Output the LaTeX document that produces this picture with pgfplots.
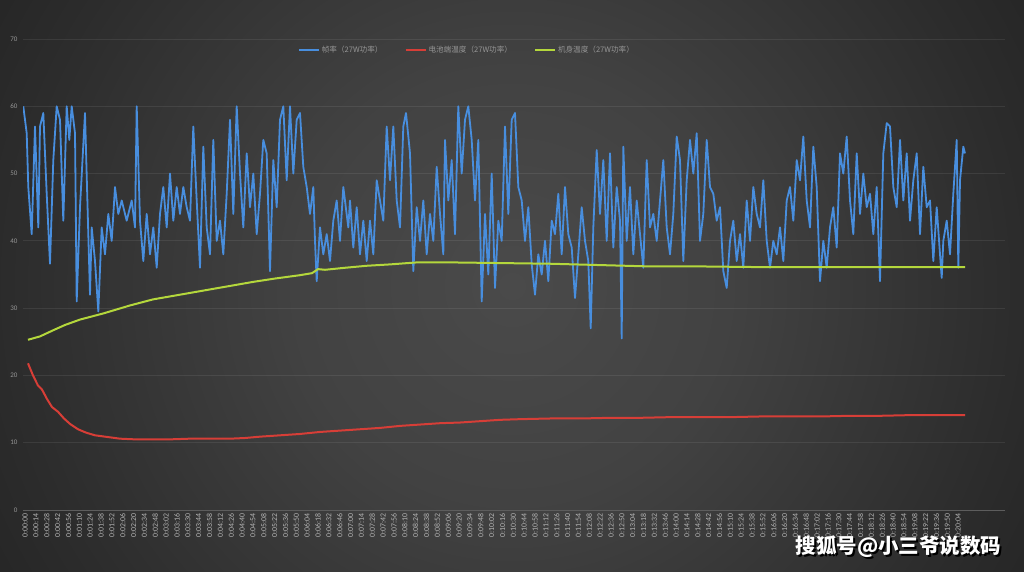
\documentclass[border=0pt]{standalone}
\usepackage{fontspec}
\setmainfont{Carlito}
\newfontfamily\cjk{Noto Sans CJK SC}
\usepackage{pgfplots}
\pgfplotsset{compat=1.18}
\definecolor{bgA}{RGB}{74,74,74}
\definecolor{bgB}{RGB}{66,66,66}
\definecolor{bgC}{RGB}{44,44,44}
\definecolor{bgD}{RGB}{27,27,27}
\definecolor{bgE}{RGB}{17,17,17}
\definecolor{bgF}{RGB}{8,8,8}
\definecolor{fpsblue}{RGB}{72,142,222}
\definecolor{tred}{RGB}{215,62,55}
\definecolor{tgreen}{RGB}{180,215,60}
\definecolor{lbl}{RGB}{150,150,150}
\pgfdeclareradialshading{vign}{\pgfpoint{0bp}{0bp}}{color(0bp)=(bgA); color(9bp)=(bgB); color(21bp)=(bgC); color(32bp)=(bgD); color(41bp)=(bgE); color(50bp)=(bgF)}
\begin{document}
\begin{tikzpicture}[x=1pt,y=1pt]
\begin{scope}
\clip (0,0) rectangle (1024,571);
\shade[shading=vign] (-88,-315) rectangle (1112,885);
\end{scope}
\useasboundingbox (0,0) rectangle (1024,571);
\draw[line width=0.9pt, color={rgb,255:red,80;green,80;blue,80}] (23,61) -- (1005,61);
\begin{axis}[
  at={(23pt,61pt)}, anchor=south west,
  scale only axis, width=982pt, height=471pt,
  xmin=23, xmax=1005, ymin=0, ymax=70,
  axis line style={draw=none},
  tick style={draw=none},
  ytick={0,10,...,70},
  ymajorgrids,
  major grid style={white, opacity=0.08, line width=0.8pt},
  xtick={23,33.85,...,957},
  xticklabel={\pgfmathtruncatemacro\tot{\ticknum*14}\pgfmathtruncatemacro\mm{\tot/60}\pgfmathtruncatemacro\ss{\tot-60*\mm}0:\ifnum\mm<10 0\fi\mm:\ifnum\ss<10 0\fi\ss},
  xticklabel style={rotate=90, anchor=east, font=\fontsize{7.8}{8}\selectfont, text={rgb,255:red,180;green,180;blue,180}, yshift=-2pt},
  yticklabel style={font=\fontsize{7}{8}\selectfont, text=lbl, xshift=-2pt},
  /pgf/number format/assume math mode=true,
  legend columns=3,
  legend style={at={(0.452,0.977)}, anchor=center, draw=none, fill=none,
    font=\cjk\fontsize{7.6}{9}\selectfont, text=lbl,
    /tikz/every even column/.append style={column sep=20pt},
    inner sep=0pt},
  legend image code/.code={\draw[#1, line width=2pt] (0pt,0pt) -- (20pt,0pt);},
  line join=round,
]
\addplot[fpsblue, line width=1.8pt] coordinates {
(23.3,60)(26.7,56)(28.3,48)(31.7,41)(35,57)(38.3,42)(40,57)(43.3,59)(46.7,47)(50,36.6)(53.3,52)(56.7,60)(60,58)(63.3,43)(66.7,60)(69.3,55)(71.7,60)(75,56)(76.7,31)(80,45)(85,59)(88.3,41)(90,32)(91.7,42)(95,37)(98.3,29.5)(101.7,42)(105,38)(108.3,44)(111.7,40)(115,48)(118.3,44)(121.7,46)(126.7,43)(131.7,46)(135,42)(136.7,60)(140,43)(143.3,37)(146.7,44)(150,38)(153.3,42)(156.7,36)(160,44)(163.3,48)(166.7,42)(170,50)(173.3,43)(176.7,48)(180,44)(183.3,48)(186.7,45)(190,43)(193.3,57)(196.7,46)(200,36)(203.3,54)(206.7,42)(210,38)(213.3,55)(216.7,40)(220,43)(223.3,38)(226.7,47)(230,58)(233.3,44)(236.7,60)(240,50)(243.3,42)(246.7,53)(250,45)(253.3,50)(256.7,41)(260,47)(263.3,55)(266.7,53)(270,35.5)(273.3,52)(276.7,45)(280,58)(283.3,60)(286.7,49)(290,60)(293.3,50)(296.7,58)(300,59)
(303.3,51)(306.7,48)(310,44)(313.3,48)(315,40)(316.7,34)(320,42)(323.3,38)(326.7,41)(330,37)(333.3,43)(336.7,46)(340,40)(343.3,48)(348.3,42)(350,46)(353.3,39)(356.7,45)(360,38)(363.3,43)(366.7,37)(370,43)(373.3,38)(376.7,49)(380,46)(383.3,43)(386.7,57)(390,49)(393.3,57)(396.7,46)(400,42)(403.3,57)(406,59)(410,53)(413.3,35.5)(416.7,45)(420,40)(423.3,46)(426.7,38)(430,44)(433.3,40)(436.7,51)(440,44)(443.3,38)(445,55)(448.3,46)(451.7,52)(455,41)(458.3,60)(461.7,50)(465,58)(468.3,60)(471.7,55)(475,46)(478.3,55)(481.7,31)(485,44)(488.3,35)(491.7,50)(495,33)(498.3,43)(501.7,40)(505,57)(508.3,44)(511.7,58)(515,59)(518.3,48)(521.7,46)(525,40)(528.3,45)(531.7,36.5)(535,32)(538.3,38)(541.7,35)(545,40)(548.3,34)(551.7,43)(555,41)(558.3,47)(561.7,38)(565,48)(568.3,41)(571.7,39)(575,31.5)(578.3,38)(581.7,45)(585,40)(588.3,37)(590.7,27)(593.3,42)(596.7,53.5)(600,44)(603.3,52)(606.7,40)(610,53)(613.3,39)(616.7,48)(620,43)(621.7,25.5)(623.3,54)(626.7,40)(630,48)(633.3,38)(636.7,46)(640,41)
(643.3,36)(646.7,52)(650,42)(653.3,44)(656.7,40)(660,46)(663.3,52)(666.7,42)(670,38)(673.3,44)(676.7,55.5)(680,52)(683.3,37)(686.7,49)(690,55)(693.3,50)(696.7,56)(700,40)(703.3,44)(706.7,55)(710,48)(713.3,47)(716.7,43)(720,45)(723.3,35.5)(726.7,33)(730,40)(733.3,43)(736.7,37)(740,41)(743.3,36)(746.7,46)(750,40)(753.3,48)(756.7,44)(760,42)(763.3,49)(766.7,40)(770,36)(773.3,40)(776.7,38)(780,42)(783.3,37)(786.7,46)(790,48)(793.3,43)(796.7,52)(800,49)(803.3,55.5)(806.7,46)(810,42)(813.3,54)(816.7,48)(820,34)(823.3,40)(826.7,36)(830,42)(833.3,45)(836.7,39)(840,53)(843.3,50)(846.7,55.5)(850,46)(853.3,41)(856.7,53)(860,44)(863.3,50)(866.7,45)(870,47)(873.3,41)(876.7,48)(880,34)(883.3,53)(886.7,57.5)(890,57)(893.3,48)(896.7,45)(900,55)(903.3,46)(906.7,53)(910,43)(913.3,49)(916.7,53)(920,41)(923.3,51)(926.7,45)(930,46)(933.3,37)(936.7,45)(940,38)(941.7,34.5)(943.3,40)(946.7,43)(950,38)(953.3,47)(956.7,55)(958.3,36)(960,49)(963.3,54)(965,53)
};
\addlegendentry{帧率（27W功率）}
\addplot[tred, line width=2pt] coordinates {
(28,21.8)(33,20)(38,18.5)(42,17.9)(47,16.5)(52,15.3)(58,14.6)(64,13.6)(70,12.8)(78,12)(86,11.5)(95,11.1)(105,10.9)(120,10.6)(135,10.5)(150,10.5)(170,10.5)(190,10.6)(210,10.6)(230,10.6)(245,10.7)(260,10.9)(280,11.1)(300,11.3)(320,11.6)(340,11.8)(360,12.0)(380,12.2)(400,12.5)(420,12.7)(440,12.9)(460,13.0)(480,13.2)(500,13.4)(520,13.5)(550,13.6)(580,13.6)(610,13.7)(640,13.7)(670,13.8)(700,13.8)(730,13.8)(760,13.9)(790,13.9)(820,13.9)(850,14.0)(880,14.0)(910,14.1)(940,14.1)(965,14.1)
};
\addlegendentry{电池端温度（27W功率）}
\addplot[tgreen, line width=2pt] coordinates {
(28,25.3)(40,25.8)(53,26.7)(65,27.5)(80,28.3)(103,29.2)(130,30.4)(153,31.3)(180,32.0)(203,32.6)(230,33.3)(253,33.9)(275,34.4)(300,34.9)(312,35.2)(318,35.8)(325,35.7)(345,36.0)(367,36.3)(390,36.5)(417,36.8)(450,36.8)(500,36.7)(550,36.6)(600,36.4)(650,36.2)(700,36.2)(760,36.1)(830,36.1)(900,36.1)(965,36.1)
};
\addlegendentry{机身温度（27W功率）}
\end{axis}
\node[text=black, font=\cjk\bfseries\fontsize{20.5}{22}\selectfont] at (900.5,22) {搜狐号@小三爷说数码};
\node[text=white, font=\cjk\bfseries\fontsize{20.5}{22}\selectfont] at (898.5,24) {搜狐号@小三爷说数码};
\end{tikzpicture}
\end{document}
